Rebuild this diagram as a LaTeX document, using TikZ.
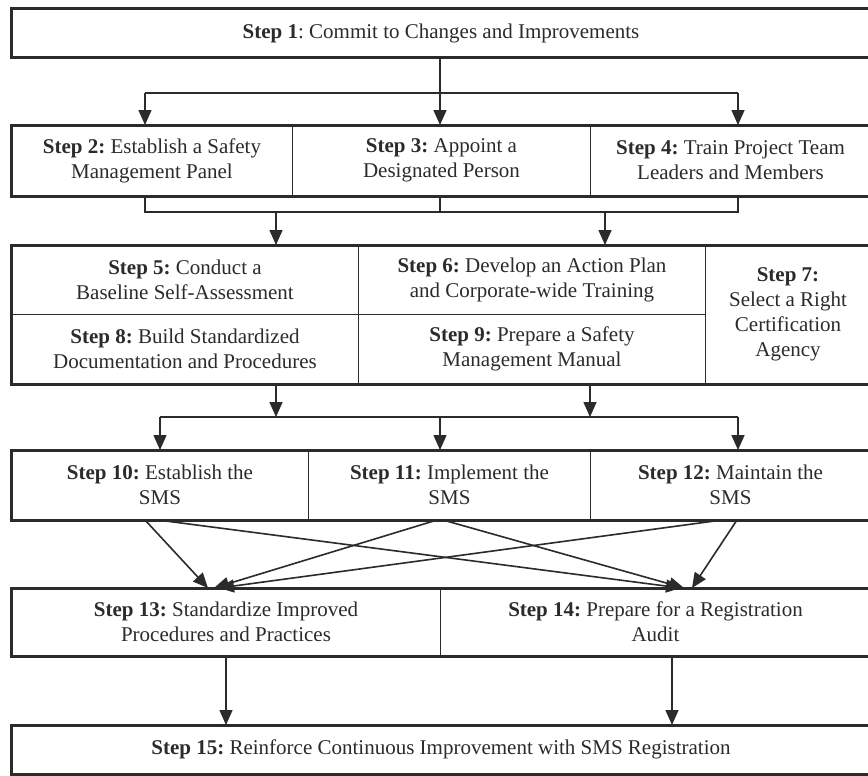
\documentclass[tikz,border=0pt]{standalone}
\usepackage{fontspec}
\setmainfont{Liberation Serif}
\frenchspacing
\usetikzlibrary{arrows.meta}
\definecolor{ink}{HTML}{2B2B2B}
\begin{document}
\begin{tikzpicture}[x=1pt,y=-1pt,
  cell/.style={draw=ink, line width=1pt, anchor=north west, inner sep=0pt,
    align=center, text=ink, font=\fontsize{21}{25}\selectfont},
  frame/.style={draw=ink, line width=3pt},
  conn/.style={draw=ink, line width=1.6pt},
  arr/.style={conn, -{Triangle[length=15pt,width=13pt]}}]
\useasboundingbox[fill=white] (0,0) rectangle (868,776);

% Row 1
\node[cell, minimum width=859pt, minimum height=48pt] (s1) at (11,9)
  {\textbf{Step 1}: Commit to Changes and Improvements};
% Row 2
\node[cell, minimum width=281pt, minimum height=70pt] (s2) at (11,125)
  {\textbf{Step 2:} Establish a Safety\\Management Panel};
\node[cell, minimum width=298pt, minimum height=70pt] (s3) at (292,125)
  {\textbf{Step 3:} Appoint a\\Designated Person};
\node[cell, minimum width=280pt, minimum height=70pt] (s4) at (590,125)
  {\textbf{Step 4:} Train Project Team\\Leaders and Members};
% Row 3
\node[cell, minimum width=347pt, minimum height=69pt] (s5) at (11,245)
  {\textbf{Step 5:} Conduct a\\Baseline Self-Assessment};
\node[cell, minimum width=347pt, minimum height=69pt] (s6) at (358,245)
  {\textbf{Step 6:} Develop an Action Plan\\and Corporate-wide Training};
\node[cell, minimum width=347pt, minimum height=69pt] (s8) at (11,314)
  {\textbf{Step 8:} Build Standardized\\Documentation and Procedures};
\node[cell, minimum width=347pt, minimum height=69pt] (s9) at (358,314)
  {\textbf{Step 9:} Prepare a Safety\\Management Manual};
\node[cell, minimum width=165pt, minimum height=138pt] (s7) at (705,245)
  {\textbf{Step 7:}\\Select a Right\\Certification\\Agency};
% Row 4
\node[cell, minimum width=297pt, minimum height=69pt] (s10) at (11,450)
  {\textbf{Step 10:} Establish the\\SMS};
\node[cell, minimum width=282pt, minimum height=69pt] (s11) at (308,450)
  {\textbf{Step 11:} Implement the\\SMS};
\node[cell, minimum width=280pt, minimum height=69pt] (s12) at (590,450)
  {\textbf{Step 12:} Maintain the\\SMS};
% Row 5
\node[cell, minimum width=429pt, minimum height=67pt] (s13) at (11,588)
  {\textbf{Step 13:} Standardize Improved\\Procedures and Practices};
\node[cell, minimum width=430pt, minimum height=67pt] (s14) at (440,588)
  {\textbf{Step 14:} Prepare for a Registration\\Audit};
% Row 6
\node[cell, minimum width=859pt, minimum height=48pt] (s15) at (11,725)
  {\textbf{Step 15:} Reinforce Continuous Improvement with SMS Registration};

% Thick frames
\draw[frame] (s1.north west) rectangle (s1.south east);
\draw[frame] (s2.north west) rectangle (s4.south east);
\draw[frame] (s5.north west) rectangle (s7.south east);
\draw[frame] (s10.north west) rectangle (s12.south east);
\draw[frame] (s13.north west) rectangle (s14.south east);
\draw[frame] (s15.north west) rectangle (s15.south east);

% 1 -> 2,3,4
\coordinate (b1a) at (145,93);
\coordinate (b1b) at (440,93);
\coordinate (b1c) at (738,93);
\draw[conn] (s1.south -| b1b) -- (b1b);
\draw[conn] (b1a) -- (b1c);
\draw[arr] (b1a) -- (b1a |- s2.north);
\draw[arr] (b1b) -- (b1b |- s3.north);
\draw[arr] (b1c) -- (b1c |- s4.north);

% 2,3,4 -> 5,6
\coordinate (c1a) at (145,212);
\coordinate (c1b) at (440,212);
\coordinate (c1c) at (738,212);
\coordinate (d1) at (276,212);
\coordinate (d2) at (605,212);
\draw[conn] (c1a |- s2.south) -- (c1a) -- (c1c) -- (c1c |- s4.south);
\draw[conn] (c1b |- s3.south) -- (c1b);
\draw[arr] (d1) -- (d1 |- s5.north);
\draw[arr] (d2) -- (d2 |- s6.north);

% 8,9 -> 10,11,12
\coordinate (e1) at (276,417);
\coordinate (e2) at (590,417);
\coordinate (f1) at (160,417);
\coordinate (f2) at (440,417);
\coordinate (f3) at (738,417);
\draw[arr] (e1 |- s8.south) -- (e1);
\draw[arr] (e2 |- s9.south) -- (e2);
\draw[conn] (f1) -- (f3);
\draw[arr] (f1) -- (f1 |- s10.north);
\draw[arr] (f2) -- (f2 |- s11.north);
\draw[arr] (f3) -- (f3 |- s12.north);

% 10,11,12 -> 13,14
\coordinate (o10a) at (145,520);
\coordinate (o10b) at (158,520);
\coordinate (o11a) at (437,520);
\coordinate (o11b) at (443,520);
\coordinate (o12a) at (722,520);
\coordinate (o12b) at (737,520);
\coordinate (t13a) at (208,588);
\coordinate (t13b) at (214,588);
\coordinate (t13c) at (219,588);
\coordinate (t14a) at (681,588);
\coordinate (t14b) at (684,588);
\coordinate (t14c) at (692,588);
\draw[arr] (o10a) -- (t13a);
\draw[arr] (o10b) -- (t14a);
\draw[arr] (o11a) -- (t13b);
\draw[arr] (o11b) -- (t14b);
\draw[arr] (o12a) -- (t13c);
\draw[arr] (o12b) -- (t14c);

% 13,14 -> 15
\coordinate (g1) at (226,655);
\coordinate (g2) at (672,655);
\draw[arr] (g1 |- s13.south) -- (g1 |- s15.north);
\draw[arr] (g2 |- s14.south) -- (g2 |- s15.north);
\end{tikzpicture}
\end{document}
